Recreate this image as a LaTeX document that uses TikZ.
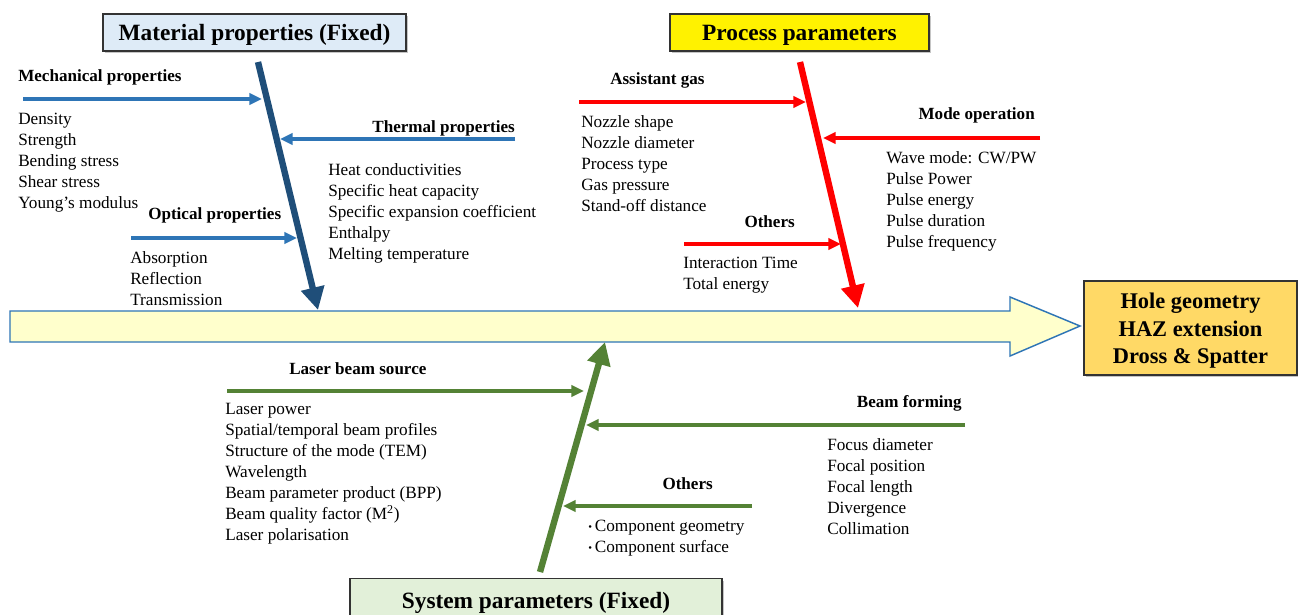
\documentclass[tikz,border=0pt]{standalone}
\usepackage{fontspec}
\setmainfont{Liberation Serif}
\usetikzlibrary{arrows.meta,shadows}
\definecolor{bspine}{HTML}{1F4E79}
\definecolor{bbranch}{HTML}{2E75B6}
\definecolor{rred}{HTML}{FF0000}
\definecolor{ggreen}{HTML}{548235}
\definecolor{matfill}{HTML}{DEEBF7}
\definecolor{procfill}{HTML}{FFF200}
\definecolor{sysfill}{HTML}{E2F0D9}
\definecolor{resfill}{HTML}{FFD966}
\definecolor{arrfill}{HTML}{FFFFCC}
\tikzset{
  title/.style={draw=black!80, line width=0.8pt, inner sep=0pt, font=\fontsize{17.5}{21}\selectfont\bfseries,
    drop shadow={shadow xshift=1.5pt, shadow yshift=-1.5pt, fill=black!45}},
  head/.style={inner sep=0pt, font=\fontsize{12.8}{15}\selectfont\bfseries},
  items/.style={inner sep=0pt, align=left, anchor=north west, font=\fontsize{12.9}{15.75}\selectfont},
  spine/.style={line width=4.8pt, -{Triangle[length=17pt,width=17pt]}},
  branch/.style={line width=2.3pt, -{Triangle[length=9.5pt,width=8.5pt]}},
}
\begin{document}
\begin{tikzpicture}[x=0.75pt,y=-0.75pt]
\clip (0,0) rectangle (1298,614);
\fill[white] (0,0) rectangle (1298,614);

% main arrow
\draw[fill=arrfill, draw=bbranch, line width=1.1pt]
  (10,311) -- (1010,311) -- (1010,297) -- (1080,326) -- (1010,356) -- (1010,342) -- (10,342) -- cycle;

% title boxes
\node[title, fill=matfill, minimum width=303*0.75pt, minimum height=37*0.75pt, text height=13pt, text depth=1.4pt] (mat) at (254.5,32.5) {Material properties (Fixed)};
\node[title, fill=procfill, minimum width=259*0.75pt, minimum height=37*0.75pt, text height=13pt, text depth=1.4pt] (proc) at (799.5,32.5) {Process parameters};
\node[title, fill=sysfill, minimum width=372*0.75pt, minimum height=50*0.75pt, text height=10pt, text depth=2.9pt, anchor=north] (sys) at (536,578) {System parameters (Fixed)};
\node[title, fill=resfill, minimum width=213*0.75pt, minimum height=94*0.75pt] (res) at (1190.5,328) {};
\node[inner sep=0pt, align=center, font=\fontsize{16.8}{20.6}\selectfont\bfseries, yshift=-2.3pt] (resT) at (res.center) {Hole geometry\\HAZ extension\\Dross \& Spatter};

% ---------- material (blue) ----------
\coordinate (bs) at (258,62);
\coordinate (be) at (318,310);
\draw[spine, bspine] (bs) -- (be);

\coordinate (mechS) at (23,99);   \coordinate (mechE) at (262,99);
\coordinate (therS) at (515,139); \coordinate (therE) at (280,139);
\coordinate (optS)  at (131,238); \coordinate (optE)  at (297,238);
\draw[branch, bbranch] (mechS) -- (mechE);
\draw[branch, bbranch] (therS) -- (therE);
\draw[branch, bbranch] (optS) -- (optE);

\node[head, anchor=west] (mechH) at (18,77) {Mechanical properties};
\node[items] (mechI) at (18,113) {Density\\Strength\\Bending stress\\Shear stress\\Young’s modulus};
\node[head, anchor=east] (therH) at (515,128) {Thermal properties};
\node[items] (therI) at (328,163) {Heat conductivities\\Specific heat capacity\\Specific expansion coefficient\\Enthalpy\\Melting temperature};
\node[head, anchor=west] (optH) at (148,215) {Optical properties};
\node[items] (optI) at (130,251) {Absorption\\Reflection\\Transmission};

% ---------- process (red) ----------
\coordinate (rs) at (800,62);
\coordinate (re) at (858,308);
\draw[spine, rred] (rs) -- (re);

\coordinate (gasS) at (579,102);  \coordinate (gasE) at (806,102);
\coordinate (modS) at (1040,138); \coordinate (modE) at (823,138);
\coordinate (othS) at (684,244);  \coordinate (othE) at (841,244);
\draw[branch, rred] (gasS) -- (gasE);
\draw[branch, rred] (modS) -- (modE);
\draw[branch, rred] (othS) -- (othE);

\node[head, anchor=west] (gasH) at (610,80) {Assistant gas};
\node[items] (gasI) at (581,115) {Nozzle shape\\Nozzle diameter\\Process type\\Gas pressure\\Stand-off distance};
\node[head, anchor=east] (modH) at (1035,115) {Mode operation};
\node[items] (modI) at (886,151) {Wave mode: CW/PW\\Pulse Power\\Pulse energy\\Pulse duration\\Pulse frequency};
\node[head, anchor=east] (othH) at (795,222) {Others};
\node[items] (othI) at (683,257) {Interaction Time\\Total energy};

% ---------- system (green) ----------
\coordinate (gs) at (540,572);
\coordinate (ge) at (605,342);
\draw[spine, ggreen] (gs) -- (ge);

\coordinate (lbsS) at (227,391); \coordinate (lbsE) at (584,391);
\coordinate (bfS)  at (965,425); \coordinate (bfE)  at (586,425);
\coordinate (goS)  at (752,506); \coordinate (goE)  at (563,506);
\draw[branch, ggreen] (lbsS) -- (lbsE);
\draw[branch, ggreen] (bfS) -- (bfE);
\draw[branch, ggreen] (goS) -- (goE);

\node[head, anchor=west] (lbsH) at (289,369) {Laser beam source};
\node[items] (lbsI) at (225,403) {Laser power\\Spatial/temporal beam profiles\\Structure of the mode (TEM)\\Wavelength\\Beam parameter product (BPP)\\Beam quality factor (M\textsuperscript{2})\\Laser polarisation};
\node[head, anchor=east] (bfH) at (962,403) {Beam forming};
\node[items] (bfI) at (827,438) {Focus diameter\\Focal position\\Focal length\\Divergence\\Collimation};
\node[head, anchor=east] (goH) at (713,484) {Others};
\node[items] (goI) at (588,520) {{\fontsize{8}{8}\selectfont\raisebox{1pt}{•}}\,Component geometry\\{\fontsize{8}{8}\selectfont\raisebox{1pt}{•}}\,Component surface};
\end{tikzpicture}
\end{document}
